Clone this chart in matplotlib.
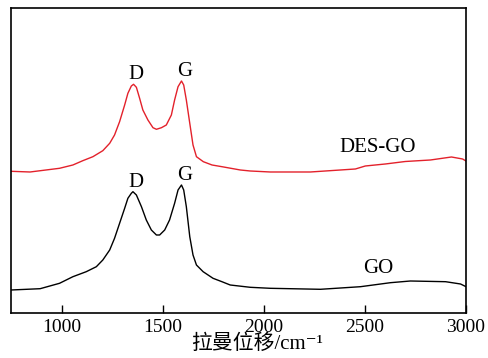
"""Raman spectra of GO and DES-GO (recreated from figure)."""

import matplotlib

matplotlib.use("Agg")
import matplotlib.pyplot as plt

FONTS = ["Liberation Serif", "Noto Sans CJK SC", "DejaVu Serif"]
plt.rcParams["font.family"] = FONTS

# Raman shift (cm-1) and intensity (arb. units, traces offset)
DES_GO_X = [750, 844, 990, 1056, 1105, 1155, 1204, 1238, 1262, 1287, 1312, 1328,
            1345, 1356, 1370, 1386, 1402, 1427, 1452, 1469, 1494, 1518, 1543,
            1559, 1576, 1593, 1604, 1617, 1634, 1650, 1667, 1701, 1744, 1793,
            1884, 1933, 2032, 2230, 2453, 2502, 2601, 2700, 2824, 2928, 2983, 3000]
DES_GO_Y = [141.7, 141.0, 144.7, 148.0, 152.3, 156.3, 162.3, 169.7, 178.0, 191.3,
            208.0, 219.7, 227.0, 228.7, 225.7, 214.7, 203.0, 193.0, 185.3, 183.7,
            185.3, 188.0, 198.0, 213.0, 226.3, 232.0, 228.0, 213.0, 189.7, 168.0,
            156.3, 151.3, 148.0, 146.3, 143.0, 142.0, 141.0, 141.0, 144.0, 147.0,
            149.0, 151.5, 153.0, 156.0, 154.0, 152.0]

GO_X = [750, 894, 990, 1056, 1122, 1172, 1204, 1238, 1262, 1287, 1312, 1328,
        1345, 1353, 1370, 1395, 1419, 1444, 1469, 1485, 1510, 1534, 1559, 1576,
        1593, 1604, 1617, 1634, 1650, 1667, 1700, 1749, 1793, 1834, 1933, 2032,
        2280, 2478, 2626, 2725, 2899, 2973, 3000]
GO_Y = [23.0, 24.3, 29.7, 36.3, 41.3, 46.3, 53.0, 63.0, 74.7, 89.7, 104.7, 114.7,
        119.7, 121.3, 118.0, 106.3, 93.0, 83.0, 78.0, 78.0, 83.0, 93.0, 109.7,
        123.0, 128.0, 123.0, 106.3, 76.3, 58.0, 48.0, 41.3, 34.7, 31.3, 28.0,
        25.7, 24.7, 23.7, 26.3, 30.3, 32.0, 31.3, 29.0, 26.3]

PEAKS = {"D": 1353, "G": 1593}
TRACE_LABELS = [("DES-GO", 2564, 165), ("GO", 2564, 44)]


def main() -> None:
    fig = plt.figure(figsize=(4.89, 3.58), dpi=100)
    ax = fig.add_axes([0.0225, 0.1257, 0.9305, 0.8520])

    ax.plot(DES_GO_X, DES_GO_Y, color="#e3212b", lw=1.0)
    ax.plot(GO_X, GO_Y, color="black", lw=1.0)

    for name, x in PEAKS.items():
        for xs, ys in ((DES_GO_X, DES_GO_Y), (GO_X, GO_Y)):
            top = max(y for xv, y in zip(xs, ys) if abs(xv - x) < 20)
            ax.text(x + 14, top + 9.5, name, ha="center", va="center", fontsize=15)

    for text, x, y in TRACE_LABELS:
        ax.text(x, y, text, ha="center", va="center", fontsize=15)

    ax.set_xlim(750, 3000)
    ax.set_ylim(0, 305)
    ax.set_xticks([1000, 1500, 2000, 2500, 3000])
    ax.set_yticks([])
    ax.tick_params(axis="x", direction="in", length=6, width=1.0, labelsize=14, pad=4)
    for spine in ax.spines.values():
        spine.set_linewidth(1.2)
    ax.set_xlabel("拉曼位移/cm⁻¹", fontsize=15, labelpad=1)
    ax.xaxis.set_label_coords(0.54, -0.07)

    fig.savefig("out.png", dpi=100)


if __name__ == "__main__":
    main()
